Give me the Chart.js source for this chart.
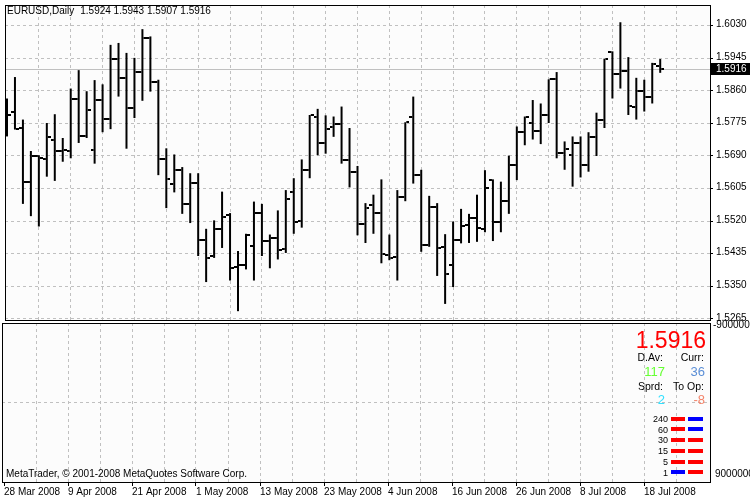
<!DOCTYPE html>
<html>
<head>
<meta charset="utf-8">
<script src="https://cdn.jsdelivr.net/npm/chart.js@4/dist/chart.umd.min.js"></script>
<style>
  html, body { margin: 0; padding: 0; background: #fff; }
  #wrap { position: relative; width: 750px; height: 500px; overflow: hidden; }
  #priceChart { position: absolute; left: 0; top: 0; }
  #infoChart { position: absolute; left: 0; top: 310px; }
</style>
</head>
<body>
<div id="wrap">
  <canvas id="priceChart" width="750" height="330"></canvas>
  <canvas id="infoChart" width="750" height="190"></canvas>
</div>
<script>
const symbolTitle = 'EURUSD,Daily';

// daily bars, 28 Mar 2008 .. 22 Jul 2008
const opens = [1.5819,1.5806,1.5764,1.5623,1.5690,1.5681,1.5733,1.5704,1.5703,1.5840,
  1.5743,1.5705,1.5836,1.5787,1.5944,1.5893,1.5816,1.5909,1.5997,1.5883,
  1.5681,1.5617,1.5653,1.5566,1.5619,1.5470,1.5429,1.5500,1.5535,1.5400,
  1.5405,1.5455,1.5542,1.5467,1.5477,1.5446,1.5595,1.5521,1.5653,1.5793,
  1.5725,1.5765,1.5774,1.5679,1.5648,1.5513,1.5562,1.5542,1.5431,1.5427,
  1.5582,1.5793,1.5641,1.5459,1.5556,1.5453,1.5405,1.5470,1.5509,1.5529,
  1.5500,1.5627,1.5517,1.5572,1.5666,1.5752,1.5776,1.5754,1.5796,1.5890,
  1.5697,1.5692,1.5724,1.5666,1.5740,1.5785,1.5961,1.5905,1.5912,1.5819,
  1.5859,1.5843,1.5924];
const highs = [1.5840,1.5896,1.5785,1.5703,1.5692,1.5776,1.5799,1.5737,1.5866,1.5914,
  1.5859,1.5888,1.5877,1.5980,1.5985,1.5959,1.5946,1.6021,1.6002,1.5889,
  1.5710,1.5694,1.5661,1.5645,1.5645,1.5500,1.5522,1.5597,1.5541,1.5442,
  1.5487,1.5571,1.5565,1.5485,1.5548,1.5601,1.5632,1.5681,1.5797,1.5813,
  1.5796,1.5793,1.5819,1.5763,1.5664,1.5567,1.5589,1.5629,1.5485,1.5601,
  1.5778,1.5845,1.5654,1.5586,1.5567,1.5486,1.5519,1.5552,1.5539,1.5589,
  1.5653,1.5629,1.5623,1.5691,1.5767,1.5793,1.5836,1.5827,1.5890,1.5909,
  1.5728,1.5741,1.5741,1.5752,1.5803,1.5944,1.5963,1.6039,1.5948,1.5894,
  1.5889,1.5933,1.5943];
const lows = [1.5741,1.5759,1.5565,1.5533,1.5506,1.5636,1.5625,1.5675,1.5684,1.5724,
  1.5737,1.5670,1.5752,1.5760,1.5845,1.5709,1.5789,1.5834,1.5858,1.5640,
  1.5554,1.5595,1.5539,1.5515,1.5429,1.5361,1.5424,1.5450,1.5365,1.5285,
  1.5394,1.5365,1.5429,1.5397,1.5420,1.5437,1.5487,1.5503,1.5632,1.5692,
  1.5696,1.5740,1.5670,1.5608,1.5483,1.5463,1.5487,1.5410,1.5418,1.5365,
  1.5572,1.5618,1.5440,1.5453,1.5377,1.5304,1.5348,1.5462,1.5463,1.5466,
  1.5491,1.5468,1.5491,1.5539,1.5627,1.5718,1.5733,1.5721,1.5776,1.5684,
  1.5654,1.5610,1.5634,1.5649,1.5690,1.5763,1.5840,1.5866,1.5797,1.5785,
  1.5806,1.5827,1.5907];
const closes = [1.5796,1.5761,1.5623,1.5690,1.5685,1.5739,1.5704,1.5705,1.5838,1.5743,
  1.5809,1.5836,1.5787,1.5944,1.5893,1.5816,1.5909,1.5997,1.5883,1.5681,
  1.5629,1.5653,1.5565,1.5619,1.5470,1.5425,1.5500,1.5532,1.5397,1.5405,
  1.5483,1.5540,1.5468,1.5477,1.5444,1.5578,1.5519,1.5653,1.5796,1.5723,
  1.5761,1.5774,1.5679,1.5648,1.5513,1.5555,1.5541,1.5433,1.5425,1.5582,
  1.5778,1.5641,1.5457,1.5556,1.5451,1.5382,1.5470,1.5506,1.5529,1.5503,
  1.5606,1.5517,1.5572,1.5666,1.5752,1.5793,1.5754,1.5796,1.5890,1.5697,
  1.5707,1.5724,1.5666,1.5740,1.5785,1.5942,1.5905,1.5912,1.5821,1.5859,
  1.5845,1.5931,1.5916];

// one date label every 8 bars
const dateLabels = ['28 Mar 2008','9 Apr 2008','21 Apr 2008','1 May 2008','13 May 2008',
  '23 May 2008','4 Jun 2008','16 Jun 2008','26 Jun 2008','8 Jul 2008','18 Jul 2008'];
const priceTicks = [1.5265,1.5350,1.5435,1.5520,1.5605,1.5690,1.5775,1.5860,1.5945,1.6030];

// info panel
const dailyAverage = 117;
const currentRange = 36;
const spreadPts = 2;
const toOpenPts = -8;
const tfLabels = ['240','60','30','15','5','1'];
const tfFirst = ['#FF0000','#FF0000','#FF0000','#FF0000','#FF0000','#0000FF'];
const tfSecond = ['#0000FF','#0000FF','#FF0000','#FF0000','#FF0000','#FF0000'];

const lastIdx = closes.length - 1;
const lastClose = closes[lastIdx];
const FONT = '"Liberation Sans", Arial, sans-serif';
const GRID = '#C0C0C0';

const gridTicks = [];
for (let i = 4; i <= 84; i += 4) gridTicks.push(i);
const labelTicks = [0].concat(gridTicks);

// small open / close tick marks used as point styles
function tickMark(side) {
  const c = document.createElement('canvas');
  c.width = 8; c.height = 2;
  const g = c.getContext('2d');
  g.fillStyle = '#000';
  g.fillRect(side === 'open' ? 0 : 5, 0, 3, 2);
  return c;
}

function fixWidth(w) {
  return s => { s.width = w; s.paddingTop = 0; s.paddingBottom = 0; s.paddingLeft = 0; s.paddingRight = 0; };
}
function fixHeight(h) {
  return s => { s.height = h; s.paddingTop = 0; s.paddingBottom = 0; s.paddingLeft = 0; s.paddingRight = 0; };
}

const xMin = -0.25, xMax = 88.25;

const priceFrame = {
  id: 'priceFrame',
  beforeDraw(chart) {
    const { ctx, chartArea: a } = chart;
    ctx.save();
    ctx.fillStyle = '#FCFCFC';
    ctx.fillRect(a.left, a.top, a.right - a.left, a.bottom - a.top);
    ctx.restore();
  },
  beforeDatasetsDraw(chart) {
    const { ctx, chartArea: a, scales } = chart;
    const py = Math.round(scales.y.getPixelForValue(lastClose)) + 0.5;
    ctx.save();
    ctx.strokeStyle = GRID;
    ctx.lineWidth = 1;
    ctx.beginPath();
    ctx.moveTo(a.left, py);
    ctx.lineTo(a.right, py);
    ctx.stroke();
    ctx.restore();
  },
  afterDraw(chart) {
    const { ctx, chartArea: a, scales } = chart;
    ctx.save();
    ctx.strokeStyle = '#000';
    ctx.lineWidth = 1;
    ctx.strokeRect(a.left + 0.5, a.top + 0.5, a.right - a.left, a.bottom - a.top);

    ctx.font = '10px ' + FONT;
    ctx.textBaseline = 'middle';
    ctx.fillStyle = '#000';
    ctx.fillText(symbolTitle, 7, 11);
    const w = ctx.measureText(symbolTitle).width;
    const vals = [opens[lastIdx], highs[lastIdx], lows[lastIdx], closes[lastIdx]].map(v => v.toFixed(4)).join(' ');
    ctx.fillText(vals, 7 + w + 6, 11);

    const py = Math.round(scales.y.getPixelForValue(lastClose));
    ctx.fillStyle = '#000';
    ctx.fillRect(a.right + 1, py - 6, 750 - a.right - 1, 12);
    ctx.fillStyle = '#fff';
    ctx.fillText(lastClose.toFixed(4), 716, py + 0.5);
    ctx.restore();
  }
};

new Chart(document.getElementById('priceChart'), {
  type: 'bar',
  data: {
    datasets: [
      {
        type: 'bar',
        data: opens.map((_, i) => ({ x: i, y: [lows[i], highs[i]] })),
        backgroundColor: '#000',
        borderWidth: 0,
        barThickness: 2,
        inflateAmount: 0
      },
      {
        type: 'scatter',
        data: opens.map((v, i) => ({ x: i, y: v })),
        pointStyle: tickMark('open'),
        pointRadius: 4
      },
      {
        type: 'scatter',
        data: closes.map((v, i) => ({ x: i, y: v })),
        pointStyle: tickMark('close'),
        pointRadius: 4
      }
    ]
  },
  options: {
    responsive: false,
    animation: false,
    events: [],
    layout: { padding: { left: 2, top: 2, right: 0, bottom: 10 } },
    plugins: { legend: { display: false }, tooltip: { enabled: false } },
    scales: {
      x: {
        type: 'linear',
        min: xMin,
        max: xMax,
        offset: false,
        afterBuildTicks: s => { s.ticks = gridTicks.map(v => ({ value: v })); },
        afterFit: fixHeight(0),
        ticks: { display: false },
        grid: { color: GRID, drawTicks: false, offset: false },
        border: { display: false, dash: [3, 3] }
      },
      y: {
        type: 'linear',
        position: 'right',
        min: 1.5262,
        max: 1.6084,
        afterBuildTicks: s => { s.ticks = priceTicks.map(v => ({ value: v })); },
        afterFit: fixWidth(40),
        ticks: {
          color: '#000',
          padding: 3,
          labelOffset: -1,
          font: { family: FONT, size: 10 },
          callback: v => v.toFixed(4)
        },
        grid: { color: GRID, tickColor: '#000', tickLength: 3, tickBorderDash: [] },
        border: { display: false, dash: [3, 3] }
      }
    }
  },
  plugins: [priceFrame]
});

const infoPanel = {
  id: 'infoPanel',
  beforeDraw(chart) {
    const { ctx, chartArea: a } = chart;
    ctx.save();
    ctx.fillStyle = '#FCFCFC';
    ctx.fillRect(a.left, a.top, a.right - a.left, a.bottom - a.top);
    ctx.restore();
  },
  afterDraw(chart) {
    const { ctx, chartArea: a } = chart;
    ctx.save();
    ctx.strokeStyle = '#000';
    ctx.lineWidth = 1;
    ctx.strokeRect(a.left + 0.5, a.top + 0.5, a.right - a.left, a.bottom - a.top);

    ctx.textBaseline = 'middle';
    ctx.fillStyle = '#000';
    ctx.font = '10px ' + FONT;
    ctx.textAlign = 'left';
    ctx.fillText('-9000000', 713, a.top + 2);
    ctx.fillText('9000000', 715, 164.7);
    ctx.fillText('MetaTrader, \u00A9 2001-2008 MetaQuotes Software Corp.', 6, 164.3);

    ctx.textAlign = 'right';
    ctx.font = '23px ' + FONT;
    ctx.fillStyle = '#FF0000';
    ctx.fillText(lastClose.toFixed(4), 706, 31.7);

    ctx.font = '10.5px ' + FONT;
    ctx.fillStyle = '#000';
    ctx.fillText('D.Av:', 663, 48.3);
    ctx.fillText('Curr:', 704, 48.3);
    ctx.fillText('Sprd:', 663, 76.7);
    ctx.fillText('To Op:', 704, 76.7);

    ctx.font = '13px ' + FONT;
    ctx.fillStyle = '#66FF33';
    ctx.fillText(String(dailyAverage), 665, 62);
    ctx.fillStyle = '#5A8ED6';
    ctx.fillText(String(currentRange), 705, 62);
    ctx.fillStyle = '#33E0FF';
    ctx.fillText(String(spreadPts), 665, 90);
    ctx.fillStyle = '#F4846A';
    ctx.fillText(String(toOpenPts), 705, 90);

    ctx.font = '9px ' + FONT;
    tfLabels.forEach((lbl, i) => {
      const y = 109.5 + i * 10.75;
      ctx.fillStyle = '#000';
      ctx.fillText(lbl, 668, y);
      ctx.fillStyle = tfFirst[i];
      ctx.fillRect(671, Math.round(y) - 3, 14, 4);
      ctx.fillStyle = tfSecond[i];
      ctx.fillRect(688, Math.round(y) - 3, 15, 4);
    });
    ctx.restore();
  }
};

new Chart(document.getElementById('infoChart'), {
  type: 'scatter',
  data: { datasets: [{ data: [] }] },
  options: {
    responsive: false,
    animation: false,
    events: [],
    layout: { padding: { left: 2, top: 13, right: 0, bottom: 0 } },
    plugins: { legend: { display: false }, tooltip: { enabled: false } },
    scales: {
      x: {
        type: 'linear',
        min: xMin,
        max: xMax,
        afterBuildTicks: s => { s.ticks = labelTicks.map(v => ({ value: v })); },
        afterFit: fixHeight(18),
        ticks: {
          autoSkip: false,
          maxRotation: 0,
          align: 'start',
          padding: 0,
          color: '#000',
          font: { family: FONT, size: 10 },
          callback: v => (v % 8 === 0 ? dateLabels[v / 8] : '')
        },
        grid: {
          color: c => (c.tick && c.tick.value === 0 ? 'rgba(0,0,0,0)' : GRID),
          tickColor: c => (c.tick && c.tick.value % 8 === 0 ? '#000' : 'rgba(0,0,0,0)'),
          tickLength: 4,
          tickBorderDash: []
        },
        border: { display: false, dash: [3, 3] }
      },
      y: {
        type: 'linear',
        position: 'right',
        min: -9000000,
        max: 9000000,
        afterBuildTicks: s => { s.ticks = [{ value: 0 }]; },
        afterFit: fixWidth(40),
        ticks: { display: false },
        grid: { color: GRID, drawTicks: false },
        border: { display: false, dash: [3, 3] }
      }
    }
  },
  plugins: [infoPanel]
});
</script>
</body>
</html>
